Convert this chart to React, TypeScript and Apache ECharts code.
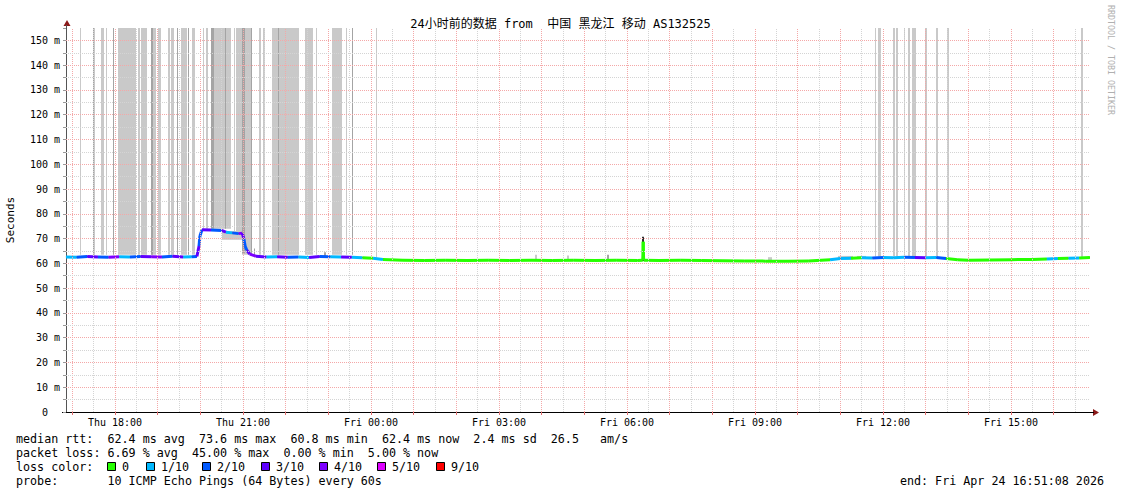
import React, { useEffect, useRef } from 'react';
import * as echarts from 'echarts';

const MONO = '"DejaVu Sans Mono", monospace';
const TITLE_FONT = '"DejaVu Sans Mono", "Noto Sans CJK SC", monospace';

const chartTitle = '24小时前的数据 from  中国 黑龙江 移动 AS132525';
const yAxisTitle = 'Seconds';
const watermark = 'RRDTOOL / TOBI OETIKER';

// x axis: hours counted from Thu 00:00
const startHour = 16.852; // Thu 16:51:08
const endHour = 40.852; // Fri 16:51:08
const xLabelHours = [18, 21, 24, 27, 30, 33, 36, 39];
const xTickHours = [17, 18, 19, 20, 21, 22, 23, 24, 25, 26, 27, 28, 29, 30, 31, 32, 33, 34, 35, 36, 37, 38, 39, 40];
const yMin = 0;
const yMax = 155;
const yStep = 5;

const lossLevels = [0, 1, 2, 3, 4, 5, 9];
const lossColors = ['#26ff00', '#00b8ff', '#0059ff', '#5e00ff', '#7e00ff', '#dd00ff', '#ff0000'];
const lossLabels = ['0', '1/10', '2/10', '3/10', '4/10', '5/10', '9/10'];

// [hour, median rtt (ms), lost pings of 10]
const medianRtt: [number, number, number][] = [
  [16.85, 62.6, 1], [17.10, 62.5, 2], [17.35, 62.8, 3], [17.60, 62.6, 2], [17.85, 62.5, 4],
  [18.10, 62.7, 1], [18.35, 62.6, 2], [18.60, 62.8, 3], [18.85, 62.7, 4], [19.10, 62.6, 2],
  [19.35, 62.9, 3], [19.60, 62.6, 1], [19.80, 62.7, 2], [19.92, 62.8, 3], [19.97, 67.0, 2],
  [19.99, 71.0, 2], [20.04, 73.6, 3], [20.25, 73.5, 2], [20.50, 73.3, 3], [20.60, 72.6, 1],
  [20.75, 72.3, 2], [20.90, 72.0, 4], [20.98, 72.2, 3], [21.02, 70.0, 2], [21.05, 67.0, 2],
  [21.09, 65.3, 3], [21.16, 63.7, 4], [21.30, 62.9, 3], [21.55, 62.6, 1], [21.80, 62.7, 3],
  [22.05, 62.5, 2], [22.30, 62.6, 1], [22.55, 62.4, 3], [22.80, 62.8, 2], [23.05, 62.7, 1],
  [23.30, 62.6, 3], [23.55, 62.5, 1], [23.80, 62.3, 0], [24.05, 62.1, 1], [24.28, 61.6, 0],
  [24.75, 61.3, 0], [25.25, 61.2, 0], [25.75, 61.3, 0], [26.25, 61.2, 0], [26.75, 61.3, 0],
  [27.25, 61.2, 0], [27.75, 61.3, 0], [28.25, 61.2, 0], [28.75, 61.3, 0], [29.25, 61.2, 0],
  [29.75, 61.3, 0], [30.25, 61.2, 0], [30.37, 61.3, 0], [30.38, 68.7, 0], [30.39, 61.3, 0],
  [30.75, 61.2, 0], [31.25, 61.3, 0], [31.75, 61.2, 0], [32.25, 61.1, 0], [32.75, 61.0, 0],
  [33.25, 60.9, 0], [33.75, 60.8, 0], [34.25, 61.0, 0], [34.76, 61.5, 1], [35.00, 62.0, 1],
  [35.25, 62.1, 0], [35.50, 62.3, 1], [35.75, 62.2, 2], [36.00, 62.4, 1], [36.25, 62.3, 1],
  [36.50, 62.5, 2], [36.75, 62.4, 3], [37.00, 62.3, 1], [37.25, 62.4, 2], [37.48, 62.0, 0],
  [37.75, 61.5, 0], [38.00, 61.3, 0], [38.50, 61.4, 0], [39.00, 61.5, 0], [39.50, 61.6, 0],
  [39.84, 61.8, 1], [40.10, 62.0, 0], [40.35, 62.1, 1], [40.60, 62.2, 0], [40.85, 62.4, 1],
];

// smoke: [from hour, to hour, low ms, high ms, dark shade]
const smokeBands: [number, number, number, number, number][] = [
  [17.180, 17.204, 63.5, 155, 0], [17.485, 17.525, 63.5, 155, 0], [17.672, 17.736, 63.5, 155, 0],
  [17.789, 17.813, 63.5, 155, 0], [17.946, 17.962, 63.5, 155, 1], [18.071, 18.493, 63.5, 155, 0],
  [18.532, 18.579, 63.5, 155, 0], [18.610, 18.750, 63.5, 155, 0], [18.844, 18.954, 63.5, 155, 0],
  [19.001, 19.079, 63.5, 155, 0], [19.236, 19.290, 63.5, 155, 0], [19.313, 19.384, 63.5, 155, 0],
  [19.461, 19.484, 63.5, 155, 1], [19.547, 19.681, 63.5, 155, 0], [19.718, 19.735, 63.5, 155, 1],
  [19.805, 19.875, 63.5, 155, 0], [20.070, 20.093, 74, 155, 0], [20.126, 20.173, 74, 155, 0],
  [20.250, 20.719, 74, 155, 0], [20.782, 20.806, 73, 155, 0], [20.836, 20.977, 70, 155, 0],
  [20.977, 21.204, 63.5, 155, 0], [21.375, 21.422, 63.5, 155, 0], [21.476, 21.509, 63.5, 155, 0],
  [21.680, 22.313, 63.5, 155, 0], [22.460, 22.641, 63.5, 155, 0], [22.718, 22.735, 63.5, 155, 0],
  [23.093, 23.321, 63.5, 155, 0], [23.414, 23.438, 63.5, 155, 0], [23.548, 23.572, 63.5, 155, 1],
  [24.117, 24.141, 62.5, 155, 0], [35.805, 35.836, 62.8, 155, 0], [35.883, 35.954, 62.8, 155, 0],
  [36.235, 36.289, 62.8, 155, 0], [36.312, 36.352, 62.8, 155, 0], [36.485, 36.508, 62.8, 155, 0],
  [36.579, 36.640, 62.8, 155, 0], [36.672, 36.773, 62.8, 155, 0], [36.991, 37.043, 62.8, 155, 0],
  [37.235, 37.282, 62.8, 155, 0], [37.493, 37.547, 62.5, 155, 0], [40.641, 40.688, 62.5, 155, 0],
  [17.485, 17.505, 63.5, 155, 1], [18.844, 18.880, 63.5, 155, 1], [20.250, 20.320, 74, 155, 1],
  [20.578, 20.602, 74, 155, 1], [20.977, 21.040, 64, 155, 1], [21.181, 21.204, 63.5, 155, 1],
  [21.814, 21.845, 63.5, 155, 1],
  [20.50, 20.97, 69.5, 73, 0], [21.26, 21.29, 62.5, 66, 1], [22.90, 22.94, 62.5, 64.5, 1],
  [29.54, 29.57, 61, 63.5, 1], [30.36, 30.40, 61, 70.7, 2], [27.85, 27.90, 61, 63.5, 0],
  [28.60, 28.65, 61, 63.2, 0], [33.30, 33.40, 60.8, 62.5, 0], [34.95, 35.30, 61.5, 63, 0],
  [35.40, 35.60, 61.8, 63, 0],
];

const statsLine1 = 'median rtt:  62.4 ms avg  73.6 ms max  60.8 ms min  62.4 ms now  2.4 ms sd  26.5   am/s';
const statsLine2 = 'packet loss: 6.69 % avg  45.00 % max  0.00 % min  5.00 % now';
const lossColorTitle = 'loss color:';
const probeLine = 'probe:       10 ICMP Echo Pings (64 Bytes) every 60s';
const endLine = 'end: Fri Apr 24 16:51:08 2026';

const legendBoxX = [107, 146, 202, 261, 319, 377, 436];
const smokeShades = ['#c9c9c9', '#a4a4a4', '#303030'];

function lossColor(l: number) {
  let c = lossColors[0];
  lossLevels.forEach((lv, i) => { if (l >= lv) c = lossColors[i]; });
  return c;
}

function hourLabel(h: number) {
  const day = h < 24 ? 'Thu' : 'Fri';
  const hh = Math.round(h) % 24;
  return `${day} ${hh < 10 ? '0' + hh : hh}:00`;
}

export default function App() {
  const ref = useRef<HTMLDivElement>(null);
  useEffect(() => {
    if (!ref.current) return;
    const chart = echarts.init(ref.current, undefined, { renderer: 'svg' });

    const gridLines: any[] = [];
    for (let h = Math.ceil(startHour * 2) / 2; h < endHour; h += 0.5) {
      gridLines.push({ xAxis: h, lineStyle: { color: h % 1 === 0 ? '#f4a8a8' : '#d4d4d4' } });
    }
    for (let v = yStep; v < yMax; v += yStep) {
      gridLines.push({ yAxis: v, lineStyle: { color: v % 10 === 0 ? '#f4a8a8' : '#d4d4d4' } });
    }

    const segs: number[][] = [];
    for (let i = 0; i < medianRtt.length - 1; i++) {
      segs.push([medianRtt[i][0], medianRtt[i][1], medianRtt[i + 1][0], medianRtt[i + 1][1], medianRtt[i][2]]);
    }

    const graphics: any[] = [
      { type: 'polygon', shape: { points: [[63.5, 26], [70.5, 26], [67, 20]] }, style: { fill: '#8b1a1a' } },
      { type: 'line', shape: { x1: 66.5, y1: 25, x2: 66.5, y2: 29 }, style: { stroke: '#555', lineWidth: 1 } },
      { type: 'polygon', shape: { points: [[1093, 409], [1093, 416], [1099, 412.5]] }, style: { fill: '#8b1a1a' } },
      { type: 'line', shape: { x1: 1089, y1: 412.5, x2: 1094, y2: 412.5 }, style: { stroke: '#000', lineWidth: 1 } },
      { type: 'line', shape: { x1: 62, y1: 412.5, x2: 67, y2: 412.5 }, style: { stroke: '#000', lineWidth: 1 } },
      {
        type: 'text', x: 1111, y: 5, rotation: -Math.PI / 2,
        style: { text: watermark, fill: '#b0b0b0', fontSize: 8.3, fontFamily: MONO, align: 'left', verticalAlign: 'middle' },
      },
      { type: 'text', x: 16, y: 439, style: { text: statsLine1, fill: '#000', fontSize: 11.7, fontFamily: MONO, align: 'left', verticalAlign: 'middle' } },
      { type: 'text', x: 16, y: 453, style: { text: statsLine2, fill: '#000', fontSize: 11.7, fontFamily: MONO, align: 'left', verticalAlign: 'middle' } },
      { type: 'text', x: 16, y: 467, style: { text: lossColorTitle, fill: '#000', fontSize: 11.7, fontFamily: MONO, align: 'left', verticalAlign: 'middle' } },
      { type: 'text', x: 16, y: 481, style: { text: probeLine, fill: '#000', fontSize: 11.7, fontFamily: MONO, align: 'left', verticalAlign: 'middle' } },
      { type: 'text', x: 1104, y: 481, style: { text: endLine, fill: '#000', fontSize: 11.7, fontFamily: MONO, align: 'right', verticalAlign: 'middle' } },
    ];
    lossLabels.forEach((lab, i) => {
      graphics.push({ type: 'rect', shape: { x: legendBoxX[i] + 0.5, y: 462.5, width: 8, height: 8 }, style: { fill: lossColors[i], stroke: '#000', lineWidth: 1 } });
      graphics.push({ type: 'text', x: legendBoxX[i] + 15, y: 467, style: { text: lab, fill: '#000', fontSize: 11.7, fontFamily: MONO, align: 'left', verticalAlign: 'middle' } });
    });

    chart.setOption({
      animation: false,
      backgroundColor: '#fff',
      textStyle: { fontFamily: MONO },
      title: {
        text: chartTitle, left: 'center', top: 13,
        textStyle: { fontFamily: TITLE_FONT, fontSize: 12, fontWeight: 'normal', color: '#000' },
      },
      grid: { left: 66, right: 31, top: 28, bottom: 82, containLabel: false, outerBoundsMode: 'none' },
      xAxis: {
        type: 'value', min: startHour, max: endHour,
        axisLine: { show: true, lineStyle: { color: '#000' } },
        axisTick: { show: true, customValues: xTickHours, length: 3, lineStyle: { color: '#e07070' } },
        axisLabel: { customValues: xLabelHours, formatter: (v: number) => hourLabel(v), fontSize: 10, color: '#000', margin: 5, fontFamily: MONO },
        splitLine: { show: false },
      },
      yAxis: {
        type: 'value', min: yMin, max: yMax, interval: yStep,
        name: yAxisTitle, nameLocation: 'middle', nameGap: 50, nameRotate: 90,
        nameTextStyle: { fontSize: 11, color: '#000', fontFamily: MONO },
        axisLine: { show: true, lineStyle: { color: '#555' } },
        axisTick: { show: true, length: 3, lineStyle: { color: '#999' } },
        axisLabel: {
          fontSize: 10, color: '#000', margin: 6, fontFamily: MONO,
          formatter: (v: number) => (v % 10 !== 0 ? '' : v === 0 ? '0\u00a0\u00a0' : v + ' m'),
        },
        splitLine: { show: false },
      },
      series: [
        {
          type: 'custom', name: 'smoke', z: 1, clip: true,
          data: smokeBands,
          encode: { x: [0, 1], y: [2, 3] },
          renderItem: (params: any, api: any) => {
            const p0 = api.coord([api.value(0), api.value(3)]);
            const p1 = api.coord([api.value(1), api.value(2)]);
            const x = Math.round(p0[0]);
            const w = Math.max(1, Math.round(p1[0]) - x);
            return {
              type: 'rect',
              shape: { x, y: p0[1], width: w, height: p1[1] - p0[1] },
              style: { fill: smokeShades[api.value(4)] },
            };
          },
        },
        {
          type: 'line', name: 'median', z: 2,
          data: medianRtt.map((d) => [d[0], d[1]]),
          showSymbol: false, symbol: 'none',
          lineStyle: { color: '#202020', width: 1 },
          markLine: {
            silent: true, symbol: ['none', 'none'], label: { show: false },
            lineStyle: { type: 'dotted', width: 1 },
            emphasis: { disabled: true },
            data: gridLines,
          },
        },
        {
          type: 'custom', name: 'loss', z: 3, clip: true,
          data: segs,
          encode: { x: [0, 2], y: [1, 3] },
          renderItem: (params: any, api: any) => {
            const a = api.coord([api.value(0), api.value(1)]);
            const b = api.coord([api.value(2), api.value(3)]);
            return {
              type: 'line',
              shape: { x1: a[0], y1: a[1], x2: b[0], y2: b[1] },
              style: { stroke: lossColor(api.value(4)), lineWidth: 3, lineCap: 'butt' },
            };
          },
        },
      ],
      graphic: graphics,
    });
    return () => chart.dispose();
  }, []);
  return <div ref={ref} style={{ position: 'fixed', left: 0, top: 0, width: 1121, height: 494 }} />;
}
